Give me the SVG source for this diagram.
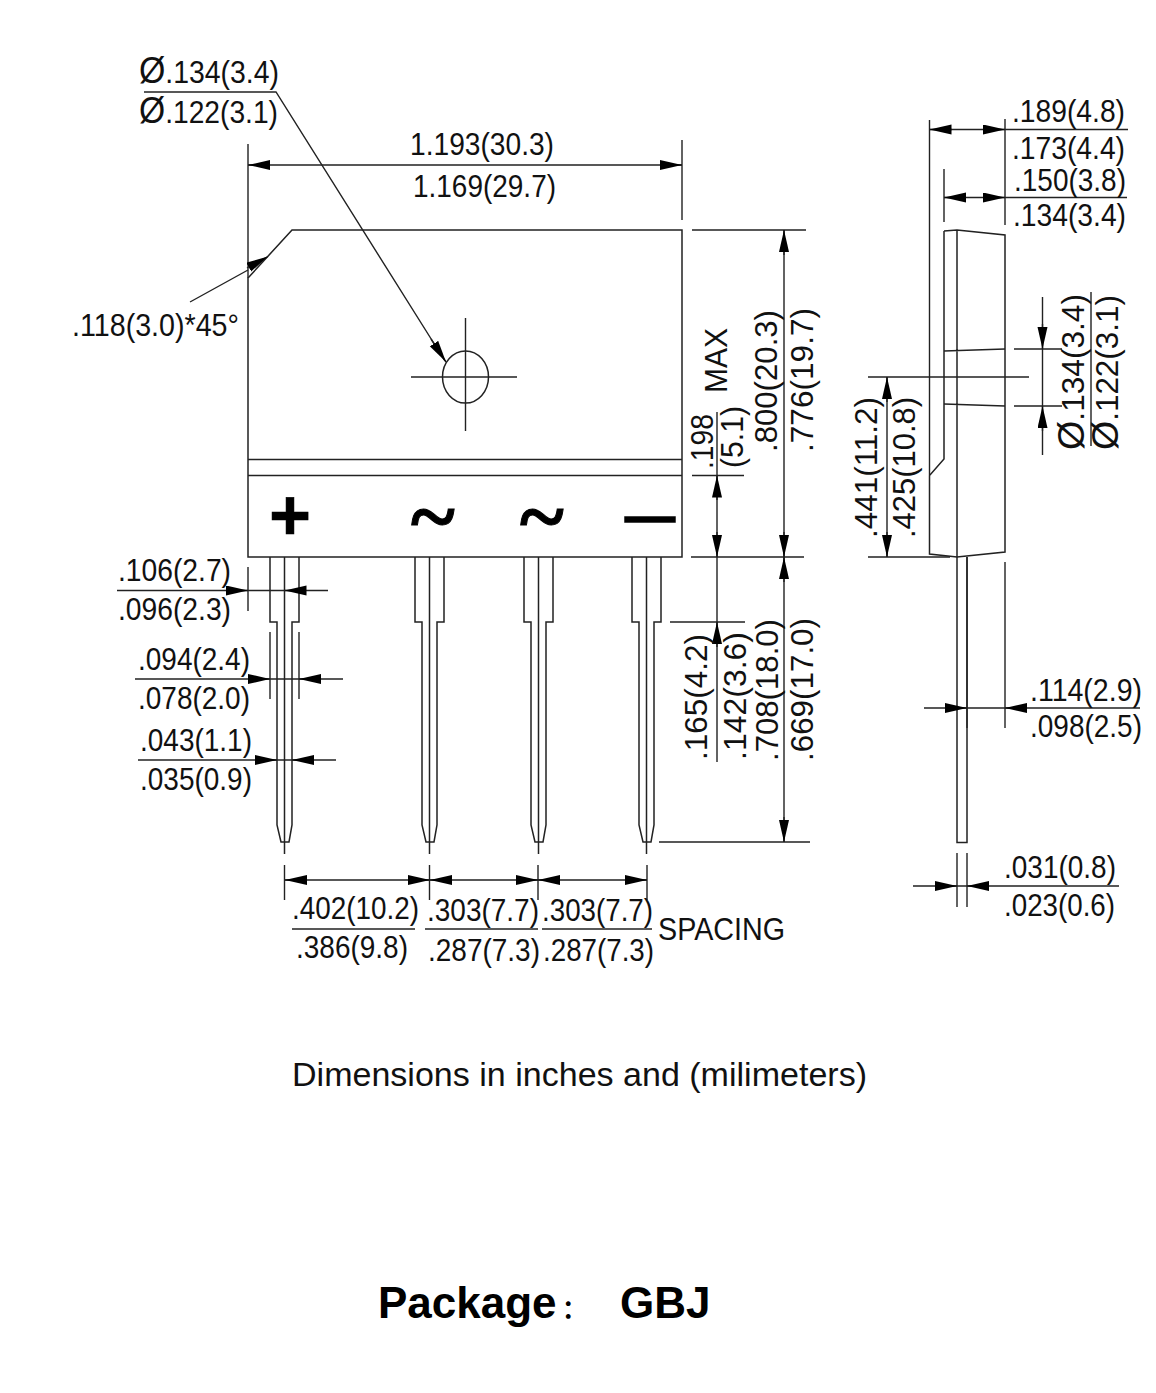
<svg xmlns="http://www.w3.org/2000/svg" width="1156" height="1393" viewBox="0 0 1156 1393">
<style>
.o{fill:none;stroke:#222;stroke-width:1.5}
.d{fill:none;stroke:#222;stroke-width:1.4}
.a{fill:none;stroke:#222;stroke-width:1.4;marker-end:url(#h)}
text{font-family:"Liberation Sans",Arial,sans-serif;font-size:31px;fill:#111}
.p{font-size:37px}
.s{font-weight:700;fill:#000;stroke:#000}
.w{font-size:84px;font-family:"Liberation Serif",serif;stroke-width:1}
</style>
<defs>
<marker id="h" markerUnits="userSpaceOnUse" markerWidth="24" markerHeight="12" refX="22" refY="5" orient="auto"><path d="M0 0L22 5L0 10Z" fill="#000"/></marker>
</defs>
<rect width="1156" height="1393" fill="#fff"/>
<g id="front-view">
<path class="o" d="M292 230H682V557H248V278Z"/>
<path class="o" d="M248 459.500H682M248 475.500H682"/>
<ellipse class="o" cx="465.500" cy="377" rx="23" ry="26"/>
<path class="d" d="M465.500 318V431M411 377H517"/>
<g id="pin-1"><path class="o" d="M270 557V622H277V825L281 842H289L292 825V622H299V557M284.500 557V854"/></g>
<g id="pin-2"><path class="o" d="M415 557V622H422V825L426 842H434L437 825V622H444V557M429.500 557V854"/></g>
<g id="pin-3"><path class="o" d="M524 557V622H531V825L535 842H543L546 825V622H553V557M538.500 557V854"/></g>
<g id="pin-4"><path class="o" d="M632 557V622H639V825L643 842H651L654 825V622H661V557M646.500 557V854"/></g>
</g>
<g id="side-view">
<path class="o" d="M944 231L957 230L1005 235V552L957 557L929.500 554V475.500L944 459V231"/>
<path class="o" d="M957 230V557M944 351L1005 349M944 404L1005 406"/>
<path class="o" d="M957 557V842.500H967V557"/>
</g>
<g id="connectors">
<path class="d" d="M144 92H276L445 361"/>
<path class="a" d="M431 339L446 362"/>
<path class="d" d="M248 144V278M682 140V220M248 165H682"/>
<path class="a" d="M270 165H248"/><path class="a" d="M660 165H682"/>
<path class="d" d="M190 302L248 270"/>
<path class="a" d="M247 268L268 256.500"/>
<path class="d" d="M248 567V611M117 590.500H328"/>
<path class="a" d="M226 590.500H248"/><path class="a" d="M306 590.500H284.500"/>
<path class="d" d="M270 632V699M299 632V699M135 679H343"/>
<path class="a" d="M248 679H270"/><path class="a" d="M321 679H299"/>
<path class="d" d="M138 760H336"/>
<path class="a" d="M255 760H277"/><path class="a" d="M314 760H292"/>
<path class="d" d="M692 230H806M691 557H804M692 475.500H744M670 622H745M659 842H810"/>
<path class="d" d="M784 230V842M717 412V762"/>
<path class="a" d="M784 255V230"/><path class="a" d="M784 532V557"/><path class="a" d="M784 582V557"/><path class="a" d="M784 817V842"/>
<path class="a" d="M717 500V475.500"/><path class="a" d="M717 532V557"/><path class="a" d="M717 647V622"/>
<path class="d" d="M284.500 865V900M429.500 865V900M538 865V900M647 865V900M285 880H647"/>
<path class="a" d="M307 880H285"/><path class="a" d="M408 880H430"/><path class="a" d="M452 880H430"/><path class="a" d="M516 880H538"/><path class="a" d="M560 880H538"/><path class="a" d="M625 880H647"/>
<path class="d" d="M292 929H415M425 929H538M542 929H652"/>
<path class="d" d="M1005 119V225M929.500 120V475M944 169V222M929.500 129.500H1128M944 197.500H1127"/>
<path class="a" d="M952 129.500H929.500"/><path class="a" d="M983 129.500H1005"/>
<path class="a" d="M966 197.500H944"/><path class="a" d="M983 197.500H1005"/>
<path class="d" d="M1014 349H1062M1014 406H1062M1042.500 297V455M1091 292V446"/>
<path class="a" d="M1042.500 324V349"/><path class="a" d="M1042.500 431V406"/>
<path class="d" d="M868 377H1029M868 557H950M887 377V557"/>
<path class="a" d="M887 402V377"/><path class="a" d="M887 532V557"/>
<path class="d" d="M1005 562V728M967 557V728M924 708H1140"/>
<path class="a" d="M945 708H967"/><path class="a" d="M1027 708H1005"/>
<path class="d" d="M957 853V907M967 853V907M913 886H1119"/>
<path class="a" d="M935 886H957"/><path class="a" d="M989 886H967"/>
</g>
<g id="labels">
<text x="139" y="83" textLength="140" lengthAdjust="spacingAndGlyphs"><tspan class="p">Ø</tspan>.134(3.4)</text>
<text x="139" y="123" textLength="139" lengthAdjust="spacingAndGlyphs"><tspan class="p">Ø</tspan>.122(3.1)</text>
<text x="410" y="155" textLength="144" lengthAdjust="spacingAndGlyphs">1.193(30.3)</text>
<text x="413" y="197" textLength="143" lengthAdjust="spacingAndGlyphs">1.169(29.7)</text>
<text x="72" y="336" textLength="167" lengthAdjust="spacingAndGlyphs">.118(3.0)*45°</text>
<text x="118" y="581" textLength="113" lengthAdjust="spacingAndGlyphs">.106(2.7)</text>
<text x="118" y="620" textLength="113" lengthAdjust="spacingAndGlyphs">.096(2.3)</text>
<text x="138" y="670" textLength="112" lengthAdjust="spacingAndGlyphs">.094(2.4)</text>
<text x="138" y="709" textLength="112" lengthAdjust="spacingAndGlyphs">.078(2.0)</text>
<text x="140" y="751" textLength="112" lengthAdjust="spacingAndGlyphs">.043(1.1)</text>
<text x="140" y="790" textLength="112" lengthAdjust="spacingAndGlyphs">.035(0.9)</text>
<text x="292" y="919" textLength="127" lengthAdjust="spacingAndGlyphs">.402(10.2)</text>
<text x="296" y="958" textLength="112" lengthAdjust="spacingAndGlyphs">.386(9.8)</text>
<text x="427" y="921" textLength="112" lengthAdjust="spacingAndGlyphs">.303(7.7)</text>
<text x="542" y="921" textLength="111" lengthAdjust="spacingAndGlyphs">.303(7.7)</text>
<text x="428" y="961" textLength="112" lengthAdjust="spacingAndGlyphs">.287(7.3)</text>
<text x="543" y="961" textLength="111" lengthAdjust="spacingAndGlyphs">.287(7.3)</text>
<text x="658" y="940" textLength="127" lengthAdjust="spacingAndGlyphs">SPACING</text>
<text x="1012" y="122" textLength="113" lengthAdjust="spacingAndGlyphs">.189(4.8)</text>
<text x="1012" y="159" textLength="113" lengthAdjust="spacingAndGlyphs">.173(4.4)</text>
<text x="1014" y="191" textLength="112" lengthAdjust="spacingAndGlyphs">.150(3.8)</text>
<text x="1013" y="226" textLength="113" lengthAdjust="spacingAndGlyphs">.134(3.4)</text>
<text x="1030" y="701" textLength="112" lengthAdjust="spacingAndGlyphs">.114(2.9)</text>
<text x="1030" y="737" textLength="112" lengthAdjust="spacingAndGlyphs">.098(2.5)</text>
<text x="1004" y="878" textLength="112" lengthAdjust="spacingAndGlyphs">.031(0.8)</text>
<text x="1004" y="916" textLength="111" lengthAdjust="spacingAndGlyphs">.023(0.6)</text>
<text transform="translate(727 393) rotate(-90)" textLength="65" lengthAdjust="spacingAndGlyphs">MAX</text>
<text transform="translate(713 469) rotate(-90)" textLength="55" lengthAdjust="spacingAndGlyphs">.198</text>
<text transform="translate(743 468) rotate(-90)" textLength="62" lengthAdjust="spacingAndGlyphs">(5.1)</text>
<text transform="translate(777 452) rotate(-90)" textLength="142" lengthAdjust="spacingAndGlyphs">.800(20.3)</text>
<text transform="translate(813 452) rotate(-90)" textLength="144" lengthAdjust="spacingAndGlyphs">.776(19.7)</text>
<text transform="translate(707 760) rotate(-90)" textLength="126" lengthAdjust="spacingAndGlyphs">.165(4.2)</text>
<text transform="translate(746 760) rotate(-90)" textLength="128" lengthAdjust="spacingAndGlyphs">.142(3.6)</text>
<text transform="translate(778 761) rotate(-90)" textLength="142" lengthAdjust="spacingAndGlyphs">.708(18.0)</text>
<text transform="translate(813 761) rotate(-90)" textLength="143" lengthAdjust="spacingAndGlyphs">.669(17.0)</text>
<text transform="translate(877 538) rotate(-90)" textLength="141" lengthAdjust="spacingAndGlyphs">.441(11.2)</text>
<text transform="translate(915 538) rotate(-90)" textLength="141" lengthAdjust="spacingAndGlyphs">.425(10.8)</text>
<text transform="translate(1084 450) rotate(-90)" textLength="156" lengthAdjust="spacingAndGlyphs"><tspan class="p">Ø</tspan>.134(3.4)</text>
<text transform="translate(1118 450) rotate(-90)" textLength="155" lengthAdjust="spacingAndGlyphs"><tspan class="p">Ø</tspan>.122(3.1)</text>
<text x="292" y="1086" textLength="575" lengthAdjust="spacingAndGlyphs" style="font-size:33px">Dimensions in inches and (milimeters)</text>
<text x="378" y="1318" lang="zh-CN" style="font-size:44px;font-weight:700;fill:#000">Package<tspan x="562" style="font-family:'Noto Sans CJK SC',sans-serif;font-size:25px">：</tspan><tspan x="620">GBJ</tspan></text>
<text class="s" x="269" y="540" textLength="42" lengthAdjust="spacingAndGlyphs" style="font-size:72px;stroke-width:.5">+</text>
<text class="s w" x="411" y="545">~</text>
<text class="s w" x="520" y="545">~</text>
<text class="s" x="625" y="533" textLength="50" lengthAdjust="spacingAndGlyphs" style="font-size:50px;stroke-width:1.5">—</text>
</g>
</svg>
